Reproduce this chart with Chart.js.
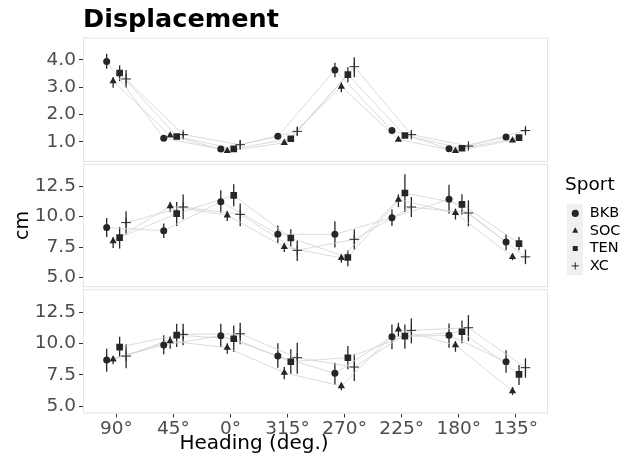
<!DOCTYPE html>
<html><head><meta charset="utf-8">
<script src="https://cdn.jsdelivr.net/npm/chart.js@4.4.1/dist/chart.umd.min.js"></script>
<style>html,body{margin:0;padding:0;background:#fff;}#wrap{position:relative;width:640px;height:464px;}</style>
</head><body><div id="wrap"><canvas id="c" width="640" height="464"></canvas></div>
<script>
// ---- data ----
const headings = ['90°','45°','0°','315°','270°','225°','180°','135°'];
const sports = ['BKB','SOC','TEN','XC'];
const ticksTop = [1, 2, 3, 4];
const ticksMid = [5, 7.5, 10, 12.5];
const ticksBot = [5, 7.5, 10, 12.5];

// panel 1 (top)
const p1Mean = [
  [3.94, 1.13, 0.73, 1.20, 3.63, 1.41, 0.74, 1.17],
  [3.22, 1.23, 0.66, 0.96, 3.02, 1.08, 0.66, 1.05],
  [3.52, 1.19, 0.74, 1.11, 3.46, 1.23, 0.76, 1.15],
  [3.30, 1.26, 0.89, 1.38, 3.75, 1.26, 0.84, 1.41]
];
const p1Lo = [
  [3.67, 1.08, 0.68, 1.10, 3.36, 1.32, 0.69, 1.10],
  [2.98, 1.18, 0.62, 0.91, 2.81, 1.02, 0.62, 1.00],
  [3.22, 1.12, 0.68, 1.03, 3.18, 1.16, 0.70, 1.08],
  [2.98, 1.16, 0.72, 1.23, 3.36, 1.14, 0.74, 1.30]
];
const p1Hi = [
  [4.22, 1.18, 0.78, 1.30, 3.89, 1.50, 0.79, 1.24],
  [3.36, 1.28, 0.70, 1.02, 3.18, 1.14, 0.70, 1.10],
  [3.80, 1.26, 0.80, 1.19, 3.73, 1.30, 0.82, 1.22],
  [3.63, 1.36, 1.05, 1.53, 4.10, 1.38, 0.94, 1.52]
];
// panel 2 (middle)
const p2Mean = [
  [9.09, 8.84, 11.22, 8.54, 8.54, 9.91, 11.41, 7.91],
  [7.97, 10.86, 10.10, 7.50, 6.60, 11.39, 10.29, 6.69],
  [8.27, 10.24, 11.74, 8.24, 6.64, 11.93, 11.00, 7.78],
  [9.50, 10.78, 10.18, 7.23, 8.13, 10.78, 10.29, 6.69]
];
const p2Lo = [
  [8.32, 8.24, 10.32, 7.83, 7.45, 9.22, 10.24, 7.23],
  [7.42, 10.37, 9.63, 7.10, 6.20, 10.78, 9.75, 6.41],
  [7.37, 9.22, 10.84, 7.50, 5.92, 10.37, 10.16, 7.23],
  [8.54, 9.77, 9.20, 6.36, 7.29, 9.96, 9.20, 6.09]
];
const p2Hi = [
  [9.88, 9.42, 12.15, 9.26, 9.61, 10.57, 12.61, 8.54],
  [8.32, 11.19, 10.45, 7.83, 6.91, 11.82, 10.65, 6.96],
  [9.14, 11.19, 12.64, 8.95, 7.23, 13.46, 11.82, 8.32],
  [10.43, 11.80, 11.06, 8.05, 8.93, 11.60, 11.33, 7.29]
];
// panel 3 (bottom)
const p3Mean = [
  [8.68, 9.88, 10.63, 9.00, 7.62, 10.55, 10.66, 8.55],
  [8.74, 10.20, 9.67, 7.67, 6.60, 11.14, 9.88, 6.20],
  [9.72, 10.68, 10.39, 8.55, 8.87, 10.60, 10.95, 7.54],
  [9.00, 10.74, 10.79, 8.87, 8.12, 11.06, 11.27, 8.07]
];
const p3Lo = [
  [7.75, 9.14, 9.72, 8.07, 6.68, 9.54, 9.67, 7.67],
  [8.34, 9.59, 9.19, 7.14, 6.26, 10.55, 9.35, 5.88],
  [8.92, 9.72, 9.32, 7.59, 7.94, 9.59, 10.02, 6.68],
  [8.02, 9.86, 9.94, 7.59, 7.00, 10.02, 10.20, 7.27]
];
const p3Hi = [
  [9.59, 10.66, 11.59, 10.02, 8.47, 11.54, 11.62, 9.46],
  [9.00, 10.60, 10.02, 8.12, 6.87, 11.67, 10.20, 6.52],
  [10.55, 11.59, 11.46, 9.54, 9.80, 11.54, 11.86, 8.28],
  [9.94, 11.59, 11.67, 10.07, 9.14, 12.02, 12.28, 8.82]
];

// ---- chart ----
Chart.defaults.font.family = "'DejaVu Sans', sans-serif";
const INK = '#262626';
const dodgeOff = [-0.17, -0.057, 0.057, 0.17];
const markerStyle = [
  {pointStyle: 'circle', radius: 3.5, bw: 0},
  {pointStyle: 'triangle', radius: 4.2, bw: 0},
  {pointStyle: 'rect', radius: 4.7, bw: 0},
  {pointStyle: 'cross', radius: 4.8, bw: 1}
];
const panels = [
  {axis: 'yA', mean: p1Mean, lo: p1Lo, hi: p1Hi},
  {axis: 'yB', mean: p2Mean, lo: p2Lo, hi: p2Hi},
  {axis: 'yC', mean: p3Mean, lo: p3Lo, hi: p3Hi}
];

const datasets = [];
panels.forEach((p, pi) => {
  sports.forEach((s, si) => {
    const pts = p.mean[si].map((v, hi) => ({x: hi + 1 + dodgeOff[si], y: v}));
    datasets.push({
      label: s + '_line', data: pts, yAxisID: p.axis, showLine: true,
      borderColor: '#d2d2d2', borderWidth: 0.8, pointRadius: 0, order: 10, showInLegend: false
    });
  });
  sports.forEach((s, si) => {
    const pts = p.mean[si].map((v, hi) => ({x: hi + 1 + dodgeOff[si], y: v}));
    const m = markerStyle[si];
    datasets.push({
      label: s, data: pts, yAxisID: p.axis, showLine: false,
      pointStyle: m.pointStyle, pointRadius: m.radius, borderWidth: m.bw,
      backgroundColor: INK, borderColor: INK, order: 1, showInLegend: pi === 0
    });
  });
});

const errorBars = {
  id: 'errorBars',
  beforeDatasetsDraw(chart) {
    const ctx = chart.ctx, xs = chart.scales.x;
    ctx.save();
    ctx.strokeStyle = INK; ctx.lineWidth = 1.3;
    panels.forEach(p => {
      const ys = chart.scales[p.axis];
      sports.forEach((s, si) => {
        p.mean[si].forEach((v, hi) => {
          const x = xs.getPixelForValue(hi + 1 + dodgeOff[si]);
          ctx.beginPath();
          ctx.moveTo(x, ys.getPixelForValue(p.lo[si][hi]));
          ctx.lineTo(x, ys.getPixelForValue(p.hi[si][hi]));
          ctx.stroke();
        });
      });
    });
    ctx.restore();
  }
};

const panelFrames = {
  id: 'panelFrames',
  beforeDraw(chart) {
    const ctx = chart.ctx, ca = chart.chartArea;
    ctx.save();
    ctx.strokeStyle = '#e3e3e3'; ctx.lineWidth = 1;
    ['yA', 'yB', 'yC'].forEach((id, i) => {
      const s = chart.scales[id];
      const t = s.top + (i === 0 ? 0.5 : 1.5), b = s.bottom - (i === 2 ? 0.5 : 1.5);
      ctx.fillStyle = '#fff';
      ctx.fillRect(ca.left, t, ca.right - ca.left, b - t);
      ctx.strokeRect(ca.left + 0.5, t, ca.right - ca.left - 1, b - t);
    });
    const lg = chart.legend;
    if (lg && lg.legendHitBoxes && lg.legendHitBoxes.length) {
      const hb = lg.legendHitBoxes;
      const first = hb[0], last = hb[hb.length - 1];
      ctx.fillStyle = '#f0f0f0';
      ctx.fillRect(first.left - 1, first.top - 2, 16, last.top + last.height - first.top + 4);
    }
    ctx.restore();
  }
};

const layoutTweak = {
  id: 'layoutTweak',
  beforeLayout(chart) {
    const lg = chart.legend;
    if (lg && !lg._tw) {
      const f = lg.fit;
      lg.fit = function () { f.call(this); this.width = 92; };
      lg._tw = true;
    }
  },
  afterLayout(chart) {
    const lg = chart.legend;
    if (lg) { lg.left = 565; lg.right = 640; }
    const xt = chart.scales.xTitle;
    if (xt) { xt.left = 99; xt.right = 409; }
  }
};

function yAxis(min, max, ticks, extra) {
  return Object.assign({
    type: 'linear', position: 'left', stack: 'panels', stackWeight: 1,
    min: min, max: max,
    afterBuildTicks: s => { s.ticks = ticks.map(v => ({value: v})); },
    afterFit: s => { s.width = 83; },
    ticks: {autoSkip: false, color: '#4d4d4d', font: {size: 18.5}, padding: 3,
      callback: v => Number(v).toFixed(1)},
    grid: {drawOnChartArea: false, drawTicks: true, tickLength: 4, color: '#333'},
    border: {display: false}
  }, extra || {});
}

new Chart(document.getElementById('c'), {
  type: 'scatter',
  data: {datasets: datasets},
  plugins: [panelFrames, errorBars, layoutTweak],
  options: {
    responsive: false, animation: false, events: [],
    layout: {padding: {left: 0, right: 0, top: 0, bottom: 0}},
    scales: {
      x: {
        type: 'linear', min: 0.415, max: 8.565, weight: 0,
        afterBuildTicks: s => { s.ticks = headings.map((h, i) => ({value: i + 1})); },
        afterFit: s => { s.height = 27; },
        ticks: {autoSkip: false, maxRotation: 0, color: '#4d4d4d', font: {size: 18.5}, padding: 1,
          callback: v => headings[Math.round(v) - 1]},
        grid: {drawOnChartArea: false, drawTicks: true, tickLength: 4, color: '#333'},
        border: {display: false}
      },
      xTitle: {
        type: 'linear', position: 'bottom', weight: 1, min: 0, max: 1,
        afterFit: s => { s.height = 23.5; },
        ticks: {display: false},
        grid: {display: false},
        border: {display: false},
        title: {display: true, text: 'Heading (deg.)', color: '#000', font: {size: 20}, padding: {top: 0, bottom: 8}}
      },
      yC: yAxis(4.40, 14.44, ticksBot),
      yB: yAxis(4.12, 14.40, ticksMid, {title: {display: true, text: 'cm', color: '#000', font: {size: 19}, padding: {top: 12, bottom: 0}}}),
      yA: yAxis(0.224, 4.816, ticksTop)
    },
    plugins: {
      tooltip: {enabled: false},
      title: {display: true, text: 'Displacement', align: 'start', fullSize: false, color: '#000',
        font: {size: 25.5, weight: 'bold'}, padding: {top: 5, bottom: 2}},
      legend: {
        display: true, position: 'right', align: 'center', fullSize: false,
        title: {display: true, text: 'Sport', color: '#000', font: {size: 18.5}, position: 'start', padding: {top: 1, bottom: 5}},
        labels: {
          usePointStyle: true, boxHeight: 5, color: '#000', font: {size: 14.5}, padding: 3,
          filter: (item, data) => data.datasets[item.datasetIndex].showInLegend
        }
      }
    }
  }
});
</script></body></html>
